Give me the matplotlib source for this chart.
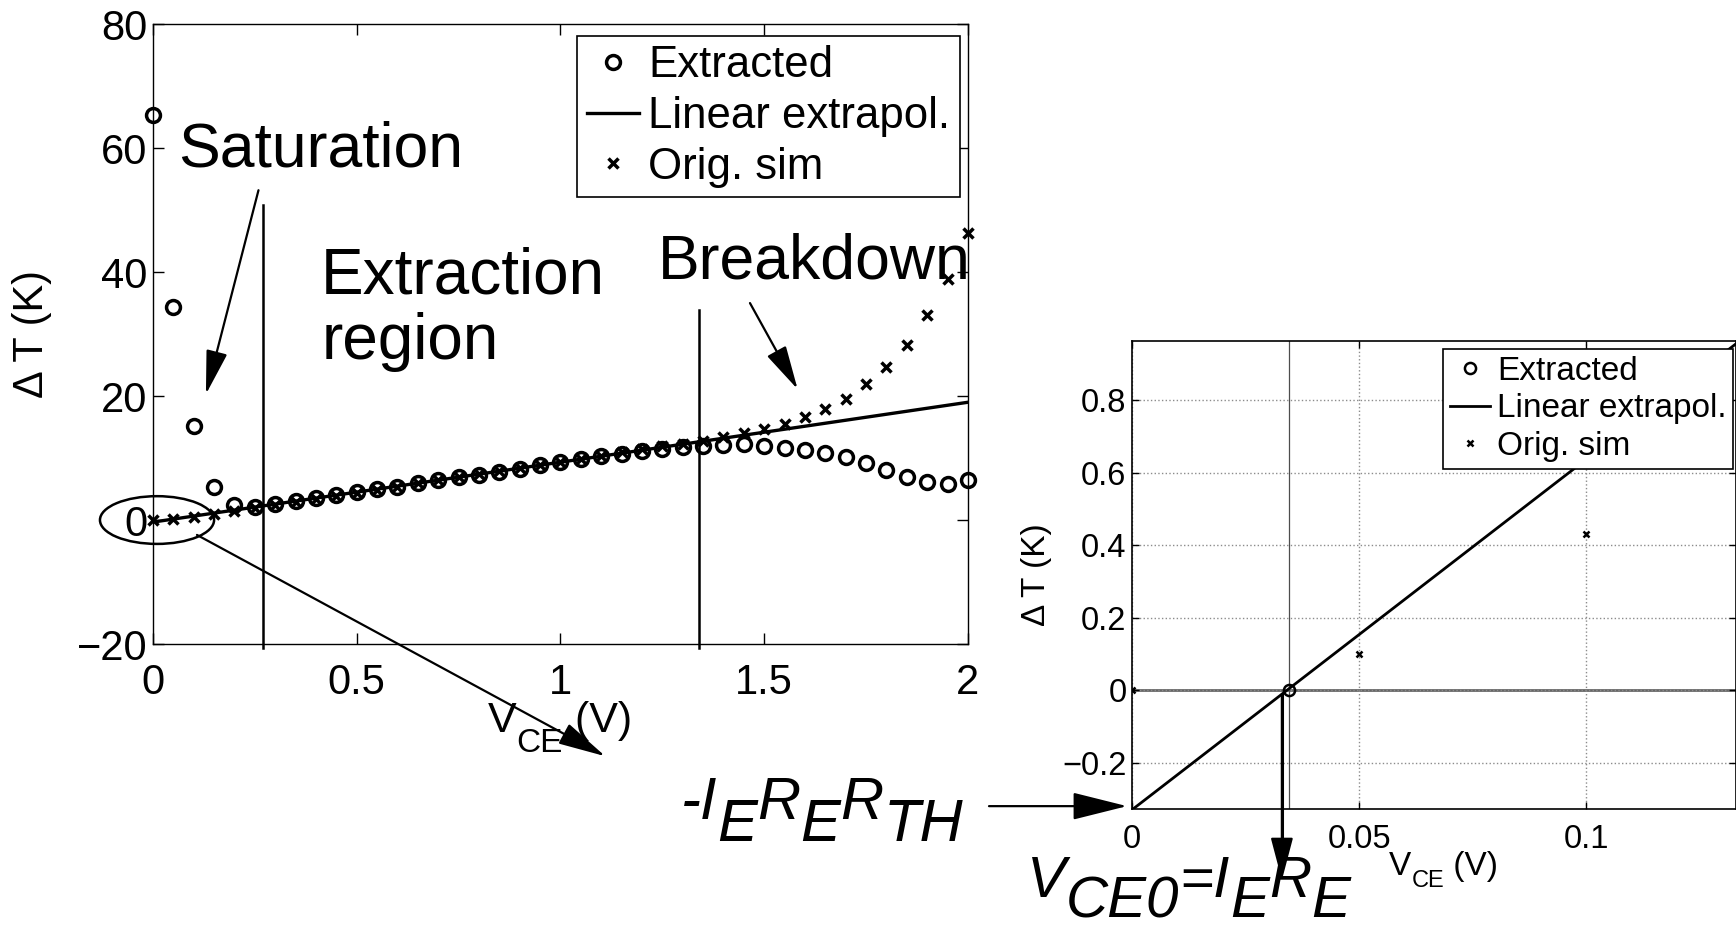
import matplotlib
matplotlib.use("Agg")
import matplotlib.pyplot as plt
from matplotlib.patches import Ellipse

plt.rcParams.update({
    "font.family": ["Liberation Sans", "DejaVu Sans"],
})

# -- values -----------------------------------------------------------------
VCE = [0.00, 0.05, 0.10, 0.15, 0.20, 0.25, 0.30, 0.35, 0.40, 0.45,
       0.50, 0.55, 0.60, 0.65, 0.70, 0.75, 0.80, 0.85, 0.90, 0.95,
       1.00, 1.05, 1.10, 1.15, 1.20, 1.25, 1.30, 1.35, 1.40, 1.45,
       1.50, 1.55, 1.60, 1.65, 1.70, 1.75, 1.80, 1.85, 1.90, 1.95, 2.00]
EXTRACTED = [65.3, 34.4, 15.2, 5.3, 2.4, 2.1, 2.6, 3.0, 3.5, 4.0,
             4.5, 5.0, 5.4, 5.9, 6.4, 6.9, 7.3, 7.8, 8.3, 8.8,
             9.3, 9.8, 10.3, 10.7, 11.1, 11.5, 11.8, 12.0, 12.1, 12.2,
             12.0, 11.7, 11.3, 10.8, 10.1, 9.2, 8.1, 7.0, 6.1, 5.8, 6.5]
ORIG_SIM = [0.0, 0.1, 0.43, 0.9, 1.4, 1.9, 2.4, 2.9, 3.4, 3.9,
            4.4, 4.9, 5.4, 5.9, 6.4, 6.9, 7.4, 7.9, 8.4, 8.9,
            9.4, 9.9, 10.4, 10.9, 11.4, 11.9, 12.3, 12.8, 13.4, 14.0,
            14.7, 15.5, 16.6, 17.9, 19.6, 21.9, 24.7, 28.2, 33.1, 38.9, 46.3]
LIN_V = [0.0, 2.0]
LIN_DT = [-0.33, 19.0]
VCE0 = [0.0345]          # zero crossing of the extrapolation
VCE0_DT = [0.0]
REGION_V = [0.27, 1.34]  # edges of the extraction region
REGION_TOP = [50.8, 33.9]

XT_L = [0, 0.5, 1, 1.5, 2]
XT_L_LAB = ["0", "0.5", "1", "1.5", "2"]
YT_L = [-20, 0, 20, 40, 60, 80]
YT_L_LAB = ["\u221220", "0", "20", "40", "60", "80"]
XT_R = [0, 0.05, 0.1]
XT_R_LAB = ["0", "0.05", "0.1"]
YT_R = [-0.2, 0, 0.2, 0.4, 0.6, 0.8]
YT_R_LAB = ["\u22120.2", "0", "0.2", "0.4", "0.6", "0.8"]


def arrow(ax, start, tip, hl=0.78, hw=0.19, ms=35, lw=1.6):
    ax.annotate("", xy=tip, xytext=start, annotation_clip=False,
                arrowprops=dict(arrowstyle=f"-|>,head_length={hl},head_width={hw}",
                                mutation_scale=ms, color="k", lw=lw,
                                shrinkA=0, shrinkB=0))


def chain(ax, x, y, pieces, drop, transform=None, **kw):
    """MATLAB-style tex: each piece is (text, level, size); level 1 = subscript."""
    txt, lv, size = pieces[0]
    prev = ax.text(x, y, txt, fontsize=size, ha="left", va="baseline", clip_on=False,
                   transform=transform if transform is not None else ax.transData, **kw)
    for txt, new, size in pieces[1:]:
        prev = ax.annotate(txt, xy=(1, 0), xycoords=prev,
                           xytext=(0, -(new - lv) * drop), textcoords="offset pixels",
                           fontsize=size, ha="left", va="bottom",
                           annotation_clip=False, **kw)
        lv = new


fig = plt.figure(figsize=(17.36, 9.26), dpi=100)

# -- left: full sweep --------------------------------------------------------
ax = fig.add_axes([0.0881, 0.3045, 0.4695, 0.6695])
ax.plot(VCE, EXTRACTED, "o", ms=10, mfc="none", mec="k", mew=2.5,
        label="Extracted", clip_on=False)
ax.plot(LIN_V, LIN_DT, "-", color="k", lw=2.4, label="Linear extrapol.")
ax.plot(VCE, ORIG_SIM, "x", ms=6.5, mec="k", mew=2.5, label="Orig. sim", clip_on=False)
for v, top in zip(REGION_V, REGION_TOP):
    ax.plot([v, v], [-20.6, top], color="k", lw=1.8, clip_on=False)
ax.add_patch(Ellipse((0.01, 0), 0.28, 7.7, fill=False, lw=1.8, clip_on=False))

ax.set_xlim(0, 2)
ax.set_ylim(-20, 80)
ax.set_xticks(XT_L, XT_L_LAB)
ax.set_yticks(YT_L, YT_L_LAB)
ax.tick_params(direction="in", top=True, right=True, length=8, width=1, labelsize=30)
ax.tick_params(axis="x", pad=14)
ax.tick_params(axis="y", pad=4)
for s in ax.spines.values():
    s.set_linewidth(1)
ax.set_ylabel("\u0394 T (K)", fontsize=30)
ax.yaxis.set_label_coords(-0.124, 0.5)
chain(ax, 0.411, -0.142, [("V", 0, 31), ("CE", 1, 24), (" (V)", 0, 31)], 18,
      transform=ax.transAxes)

leg = ax.legend(loc="upper right", bbox_to_anchor=(0.990, 0.981), fontsize=31.5,
                fancybox=False, edgecolor="k", framealpha=1, borderpad=0.22,
                labelspacing=0.22, handlelength=1.2, handletextpad=0.2,
                borderaxespad=0)
leg.get_frame().set_linewidth(1.2)

ax.text(0.061, 57.1, "Saturation", fontsize=45, va="baseline")
ax.text(0.413, 36.6, "Extraction", fontsize=46, va="baseline")
ax.text(0.413, 26.0, "region", fontsize=46, va="baseline")
ax.text(1.240, 39.0, "Breakdown", fontsize=45, va="baseline")
arrow(ax, (0.259, 53.2), (0.130, 20.3))
arrow(ax, (1.465, 35.0), (1.582, 21.1))
arrow(ax, (0.108, -2.4), (1.110, -38.1), hl=0.85, hw=0.2)

# -- right: zoom on the zero crossing ---------------------------------------
ax2 = fig.add_axes([0.6521, 0.1263, 0.3479, 0.5054])
ax2.plot(VCE0, VCE0_DT, "o", ms=8, mfc="none", mec="k", mew=1.8,
         label="Extracted", zorder=5)
ax2.plot(LIN_V, LIN_DT, "-", color="k", lw=2, label="Linear extrapol.")
ax2.plot(VCE, ORIG_SIM, "x", ms=5, mec="k", mew=1.8, label="Orig. sim")
ax2.axhline(0, color="0.4", lw=2, zorder=1)
ax2.axvline(VCE0[0], color="0.3", lw=0.9, zorder=1)
ax2.set_xlim(0, 0.133)
ax2.set_ylim(-0.328, 0.963)
ax2.set_xticks(XT_R, XT_R_LAB)
ax2.set_yticks(YT_R, YT_R_LAB)
ax2.grid(True, ls=":", color="0.55", lw=1)
ax2.tick_params(direction="in", top=True, right=True, length=5, width=1, labelsize=23.5)
ax2.tick_params(axis="x", pad=11)
ax2.tick_params(axis="y", pad=4)
for s in ax2.spines.values():
    s.set_linewidth(1.2)
ax2.set_ylabel("\u0394 T (K)", fontsize=24)
ax2.yaxis.set_label_coords(-0.132, 0.5)
chain(ax2, 0.4255, -0.141, [("V", 0, 24), ("CE", 1, 17), (" (V)", 0, 24)], 10,
      transform=ax2.transAxes)

leg2 = ax2.legend(loc="upper right", bbox_to_anchor=(0.995, 0.983), fontsize=24,
                  fancybox=False, edgecolor="k", framealpha=1, borderpad=0.2,
                  labelspacing=0.2, handlelength=1.2, handletextpad=0.2,
                  borderaxespad=0)
leg2.get_frame().set_linewidth(1.2)

arrow(ax2, (-0.0315, -0.32), (-0.0011, -0.32), hl=0.86, hw=0.215, ms=40)
arrow(ax2, (0.033, -0.014), (0.033, -0.524), hl=0.76, hw=0.2, ms=35)
ax2.plot([0.033, 0.033], [-0.014, -0.45], color="k", lw=2.2, clip_on=False)

chain(ax2, -0.0993, -0.356,
      [("-I", 0, 43), ("E", 1, 43), ("R", 0, 43), ("E", 1, 43), ("R", 0, 43),
       ("TH", 1, 43)], 22, style="italic")
chain(ax2, -0.0231, -0.571,
      [("V", 0, 42), ("CE0", 1, 42), ("=I", 0, 42), ("E", 1, 42), ("R", 0, 42),
       ("E", 1, 42)], 20, style="italic")

fig.savefig("out.png", dpi=100)
